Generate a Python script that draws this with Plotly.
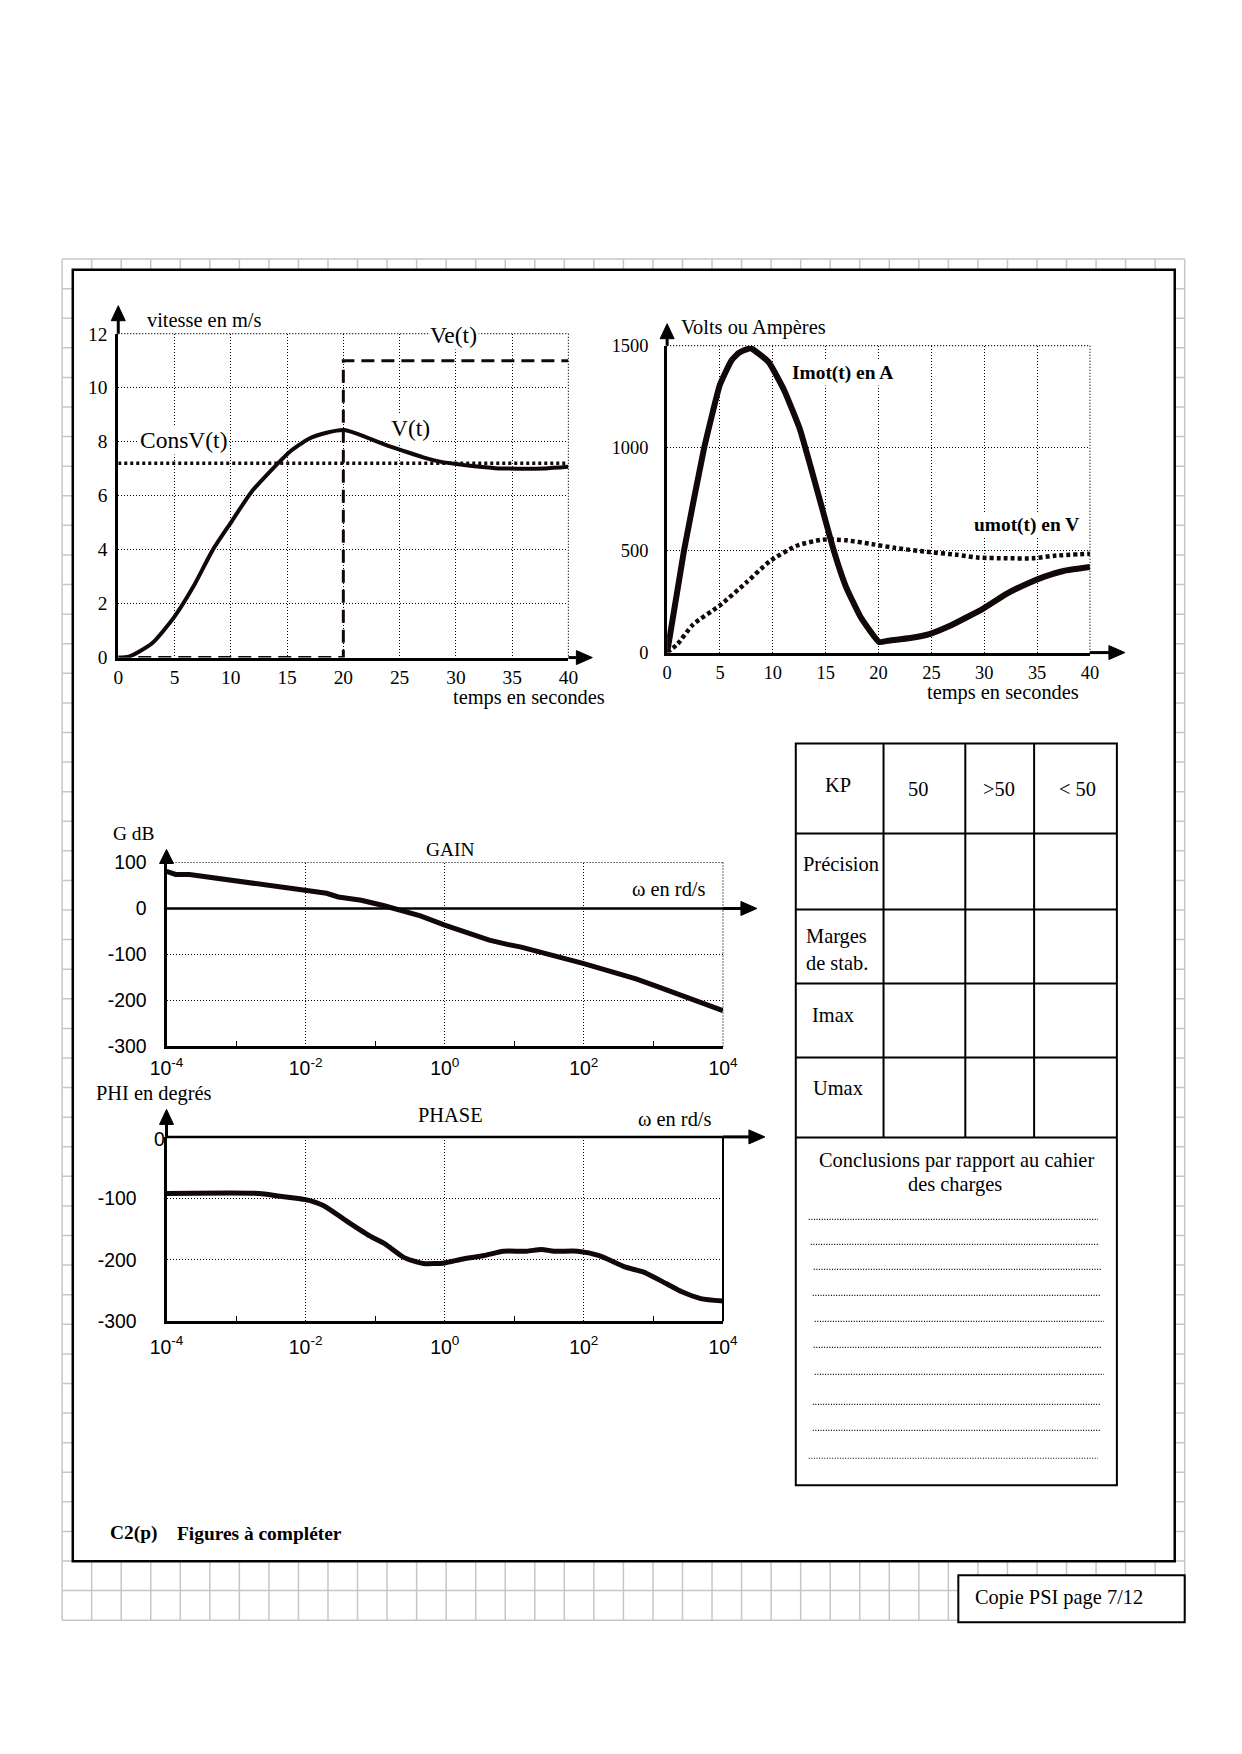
import plotly.graph_objects as go

# ---------------- data ----------------
# Chart 1 : vitesse en m/s vs temps (s)
t_v = [0, 0.95, 2.98, 5.0, 6.7, 8.4, 10.1, 11.8, 13.5, 15.2, 16.9, 18.6, 20.1,
       22.0, 23.7, 25.4, 27.1, 28.7, 30.4, 32.1, 33.8, 35.5, 37.9, 40]
v_vals = [0, 0.03, 0.52, 1.52, 2.65, 3.99, 5.06, 6.12, 6.9, 7.61, 8.1, 8.34, 8.43,
          8.17, 7.89, 7.65, 7.42, 7.25, 7.15, 7.07, 7.01, 7.0, 7.01, 7.07]
t_ve = [0, 20, 20, 40]
ve_vals = [0, 0, 11, 11]
t_cons = [0, 40]
cons_vals = [7.2, 7.2]
v_xticks = [0, 5, 10, 15, 20, 25, 30, 35, 40]
v_yticks = [0, 2, 4, 6, 8, 10, 12]

# Chart 2 : Imot (A) and umot (V) vs temps (s)
t_i = [0, 1.6, 3.5, 5.0, 6.1, 6.8, 7.9, 9.6, 11.1, 12.56, 13.6, 14.7, 15.8, 16.9,
       18.3, 20.05, 20.9, 23.0, 24.8, 26.6, 28.4, 29.9, 32.1, 33.9, 35.7, 37.5, 40]
i_vals = [0, 500, 1000, 1310, 1429, 1466, 1488, 1420, 1279, 1092, 904, 698, 492, 324,
          174, 52, 58, 71, 90, 127, 174, 215, 287, 333, 371, 399, 418]
t_u = [0, 1.0, 2.45, 4.98, 7.5, 9.7, 12.2, 14.7, 16.9, 19.4, 21.6, 24.5, 27.4,
       29.5, 32.1, 34.6, 36.8, 40]
u_vals = [0, 43, 137, 230, 343, 446, 521, 552, 549, 530, 511, 493, 478, 464,
          461, 461, 474, 483]
iu_xticks = [0, 5, 10, 15, 20, 25, 30, 35, 40]
iu_yticks = [0, 500, 1000, 1500]

# Bode : gain (dB) and phase (deg) vs omega (rd/s)
w_gain = [1e-4, 1.35e-4, 2.14e-4, 1.05e-3, 1e-2, 2.0e-2, 2.95e-2, 6.3e-2, 0.135,
          0.209, 0.447, 1.0, 2.04, 4.37, 7.94, 12.6, 100, 562, 1200, 3980, 1e4]
gain_db = [81, 74, 74, 60, 40, 33, 25, 18, 6, -2, -16, -36, -51, -69, -78, -84,
           -120, -153, -171, -200, -222]
w_phase = [1e-4, 2.14e-3, 3.98e-3, 1e-2, 1.82e-2, 3.89e-2, 8.32e-2, 0.138, 0.257,
           0.49, 1.0, 1.74, 3.72, 6.92, 15.1, 24.5, 37.2, 81.3, 166, 398, 724,
           1549, 2570, 4786, 1e4]
phase_deg = [-92, -92, -96, -102, -112, -137, -161, -174, -196, -206, -205, -199,
             -193, -186, -186, -183, -186, -186, -193, -212, -220, -239, -252, -263, -267]
bode_xticks = [1e-4, 1e-2, 1, 1e2, 1e4]
bode_xlabels = ['10<sup>-4</sup>', '10<sup>-2</sup>', '10<sup>0</sup>', '10<sup>2</sup>', '10<sup>4</sup>']
bode_minor = [1e-3, 1e-1, 1e1, 1e3]
gain_yticks = [-300, -200, -100, 0, 100]
gain_ylabels = ['-300', '-200', '-100', '0', '100']
phase_yticks = [-300, -200, -100]
phase_ylabels = ['-300', '-200', '-100']

# Table texts
table_cols = ['KP', '50', '>50', '< 50']
table_rows = ['Précision', 'Marges<br>de stab.', 'Imax', 'Umax']

# ---------------- page geometry (pixels) ----------------
W, H = 1242, 1754
SX, OX = 1.0236, -22.6
SY, OY = 1.0123, -19.4
FS = 1.02

def px(x):
    return (SX * x + OX) / W
def py(y):
    return 1 - (SY * y + OY) / H
def fs(s):
    return round(s * FS, 1)

SERIF = 'Liberation Serif'
SANS = 'Liberation Sans'
INK = '#120808'

# plot boxes (left, right, top, bottom) in pixels
B1 = (115.6, 567, 334, 658)
B2 = (666, 1090, 346, 653)
BG = (164, 722, 863, 1047)
BP = (164, 722, 1137.5, 1322)

def dom_x(b):
    return [px(b[0]), px(b[1])]
def dom_y(b):
    return [py(b[3]), py(b[2])]

fig = go.Figure()

fig.add_trace(go.Scatter(x=t_ve, y=ve_vals, mode='lines', xaxis='x', yaxis='y',
                         line=dict(color=INK, width=3, dash='13px,7px')))
fig.add_trace(go.Scatter(x=t_cons, y=cons_vals, mode='lines', xaxis='x', yaxis='y',
                         line=dict(color=INK, width=3.5, dash='3px,3px')))
fig.add_trace(go.Scatter(x=t_v, y=v_vals, mode='lines', xaxis='x', yaxis='y',
                         line=dict(color=INK, width=4, shape='spline', smoothing=0.6)))

fig.add_trace(go.Scatter(x=t_u, y=u_vals, mode='lines', xaxis='x2', yaxis='y2',
                         line=dict(color=INK, width=4.5, dash='4px,3px', shape='spline', smoothing=0.6)))
fig.add_trace(go.Scatter(x=t_i, y=i_vals, mode='lines', xaxis='x2', yaxis='y2',
                         line=dict(color=INK, width=6, shape='spline', smoothing=0.4)))

fig.add_trace(go.Scatter(x=w_gain, y=gain_db, mode='lines', xaxis='x3', yaxis='y3',
                         line=dict(color=INK, width=5)))
fig.add_trace(go.Scatter(x=w_phase, y=phase_deg, mode='lines', xaxis='x4', yaxis='y4',
                         line=dict(color=INK, width=5, shape='spline', smoothing=0.6)))

def ax(**kw):
    d = dict(showgrid=True, gridcolor='black', gridwidth=1, griddash='1px,2px',
             zeroline=False, showline=True, linecolor='black', linewidth=3,
             ticks='', fixedrange=True,
             tickfont=dict(family=SERIF, size=fs(18), color='black'))
    d.update(kw)
    return d

serif19 = dict(family=SERIF, size=fs(19), color='black')
sans_tick = dict(family=SANS, size=fs(19), color='black')
fig.update_layout(
    width=W, height=H, margin=dict(l=0, r=0, t=0, b=0),
    paper_bgcolor='white', plot_bgcolor='rgba(0,0,0,0)', showlegend=False,
    xaxis=ax(domain=dom_x(B1), range=[0, 40], anchor='y', tickvals=v_xticks,
             ticklabelstandoff=0, tickfont=serif19),
    yaxis=ax(domain=dom_y(B1), range=[0, 12], anchor='x', tickvals=v_yticks,
             ticklabelstandoff=4, tickfont=serif19),
    xaxis2=ax(domain=dom_x(B2), range=[0, 40], anchor='y2', tickvals=iu_xticks, ticklabelstandoff=1),
    yaxis2=ax(domain=dom_y(B2), range=[0, 1500], anchor='x2', tickvals=iu_yticks, ticklabelstandoff=12),
    xaxis3=ax(domain=dom_x(BG), type='log', range=[-4, 4], anchor='y3', tickvals=bode_xticks,
              ticktext=bode_xlabels, ticklabelstandoff=2, tickfont=sans_tick,
              minor=dict(tickvals=bode_minor, ticks='inside', ticklen=5, tickcolor='black', showgrid=False)),
    yaxis3=ax(domain=dom_y(BG), range=[-300, 100], anchor='x3', tickvals=gain_yticks,
              ticktext=gain_ylabels, ticklabelstandoff=13, tickfont=sans_tick),
    xaxis4=ax(domain=dom_x(BP), type='log', range=[-4, 4], anchor='y4', tickvals=bode_xticks,
              ticktext=bode_xlabels, ticklabelstandoff=6, tickfont=sans_tick,
              minor=dict(tickvals=bode_minor, ticks='inside', ticklen=5, tickcolor='black', showgrid=False)),
    yaxis4=ax(domain=dom_y(BP), range=[-300, 0], anchor='x4', tickvals=phase_yticks,
              ticktext=phase_ylabels, ticklabelstandoff=23, tickfont=sans_tick),
)

shapes = []
# ---- page background grid ----
GX0, GX1, GY0, GY1 = 59.3, 1185, 259.3, 1621
nx, ny = 38, 46
for k in range(nx + 1):
    x = GX0 + k * (GX1 - GX0) / nx
    shapes.append(dict(type='line', xref='paper', yref='paper', x0=px(x), x1=px(x),
                       y0=py(GY0), y1=py(GY1), line=dict(color='#c6c6c6', width=1.5), layer='below'))
for k in range(ny + 1):
    y = GY0 + k * (GY1 - GY0) / ny
    shapes.append(dict(type='line', xref='paper', yref='paper', x0=px(GX0), x1=px(GX1),
                       y0=py(y), y1=py(y), line=dict(color='#c6c6c6', width=1.5), layer='below'))
# inner frame
shapes.append(dict(type='rect', xref='paper', yref='paper', x0=px(70), x1=px(1175),
                   y0=py(1562), y1=py(270), fillcolor='white', line=dict(color='black', width=2.5),
                   layer='below'))
# "Copie" box
shapes.append(dict(type='rect', xref='paper', yref='paper', x0=px(958), x1=px(1185),
                   y0=py(1623), y1=py(1576), fillcolor='white', line=dict(color='black', width=2),
                   layer='below'))

def seg(x0, y0, x1, y1, w=3, color='black', dash=None):
    ln = dict(color=color, width=w)
    if dash:
        ln['dash'] = dash
    shapes.append(dict(type='line', xref='paper', yref='paper', x0=px(x0), x1=px(x1),
                       y0=py(y0), y1=py(y1), line=ln))

def arrow_up(x, ytop, ytip, base_h=15, half=7):
    seg(x, ytop, x, ytip + base_h, 3)
    shapes.append(dict(type='path', xref='paper', yref='paper',
                       path=f'M {px(x - half)},{py(ytip + base_h)} L {px(x + half)},{py(ytip + base_h)} L {px(x)},{py(ytip)} Z',
                       fillcolor='black', line=dict(color='black', width=1)))

def arrow_right(y, xend, xtip, base_w=16, half=7):
    seg(xend, y, xtip - base_w, y, 3)
    shapes.append(dict(type='path', xref='paper', yref='paper',
                       path=f'M {px(xtip - base_w)},{py(y - half)} L {px(xtip - base_w)},{py(y + half)} L {px(xtip)},{py(y)} Z',
                       fillcolor='black', line=dict(color='black', width=1)))

DOT = '1px,2px'
# chart 1: dotted top/right border + arrows
seg(B1[0], B1[2], B1[1], B1[2], 1.2, dash=DOT)
seg(B1[1], B1[2], B1[1], B1[3], 1.2, dash=DOT)
arrow_up(B1[0], B1[2], 306)
arrow_right(B1[3], B1[1], 591)
# chart 2
seg(B2[0], B2[2], B2[1], B2[2], 1.2, dash=DOT)
seg(B2[1], B2[2], B2[1], B2[3], 1.2, dash=DOT)
arrow_up(B2[0], B2[2], 324)
arrow_right(B2[3], B2[1], 1125)
# gain: dotted top/right, zero line + arrows
g0 = BG[2] + (BG[3] - BG[2]) * 100 / 400
seg(BG[0], BG[2], BG[1], BG[2], 1.2, dash=DOT)
seg(BG[1], BG[2], BG[1], BG[3], 1.2, dash=DOT)
seg(BG[0], g0, BG[1], g0, 2.5)
arrow_up(BG[0], BG[2], 850, base_h=14)
arrow_right(g0, BG[1], 756)
# phase: solid top line and right border + arrows
seg(BP[0], BP[2], BP[1], BP[2], 2.5)
seg(BP[1], BP[2], BP[1], BP[3], 2)
arrow_up(BP[0], BP[2], 1110)
arrow_right(BP[2], BP[1], 764)

# ---- table ----
TL, TR, TT, TB = 795, 1117, 744, 1486
col_x = [883, 965, 1034]
row_y = [834, 910, 984, 1058, 1138]
shapes.append(dict(type='rect', xref='paper', yref='paper', x0=px(TL), x1=px(TR),
                   y0=py(TB), y1=py(TT), line=dict(color='black', width=2)))
for cx in col_x:
    seg(cx, TT, cx, row_y[-1], 2)
for ry in row_y:
    seg(TL, ry, TR, ry, 2)
dot_lines = [(808, 1098, 1220), (810, 1099, 1245), (813, 1102, 1270), (812, 1101, 1296),
             (814, 1104, 1322), (813, 1102, 1348), (814, 1104, 1375), (812, 1101, 1405),
             (812, 1101, 1431), (808, 1098, 1459)]
for x0, x1, yy in dot_lines:
    seg(x0, yy, x1, yy, 1.2, dash='1px,1.6px')

fig.update_layout(shapes=shapes)

ann = []
def txt(x, y, s, size=19, family=SERIF, xanchor='left', bold=False, bg=None, align='center'):
    t = f'<b>{s}</b>' if bold else s
    d = dict(x=px(x), y=py(y), xref='paper', yref='paper', text=t, showarrow=False,
             xanchor=xanchor, yanchor='middle', align=align,
             font=dict(family=family, size=fs(size), color='black'))
    if bg:
        d['bgcolor'] = bg
    ann.append(d)

# chart 1 labels
txt(142, 320, 'vitesse en m/s', 20)
txt(452, 335, 'Ve(t)', 23, xanchor='center', bg='white')
txt(181, 440, 'ConsV(t)', 23, xanchor='center', bg='white')
txt(409, 428, 'V(t)', 23, xanchor='center', bg='white')
txt(527, 698, 'temps en secondes', 20, xanchor='center')
# chart 2 labels
txt(678, 328, 'Volts ou Ampères', 20)
txt(789, 373, 'Imot(t) en A', 19, bold=True, bg='white')
txt(972, 525, 'umot(t) en V', 19, bold=True, bg='white')
txt(1003, 693, 'temps en secondes', 20, xanchor='center')
# bode labels
txt(108, 834, 'G dB', 19)
txt(448, 850, 'GAIN', 19, xanchor='center')
txt(629, 890, 'ω en rd/s', 20)
txt(91, 1094, 'PHI en degrés', 20)
txt(449, 1116, 'PHASE', 20, xanchor='center')
txt(635, 1120, 'ω en rd/s', 20)
txt(157, 1140, '0', 19, family=SANS, xanchor='center')
# table labels
txt(837, 785, table_cols[0], 20, xanchor='center')
txt(918, 789, table_cols[1], 20, xanchor='center')
txt(999, 789, table_cols[2], 20, xanchor='center')
txt(1078, 789, table_cols[3], 20, xanchor='center')
txt(840, 864, table_rows[0], 20, xanchor='center')
txt(803, 950, table_rows[1], 20, align='left')
txt(809, 1016, table_rows[2], 20)
txt(810, 1089, table_rows[3], 20)
txt(956, 1161, 'Conclusions par rapport au cahier', 20, xanchor='center')
txt(955, 1185, 'des charges', 20, xanchor='center')
# footer
txt(105, 1534, 'C2(p)', 19, bold=True)
txt(172, 1534, 'Figures à compléter', 19, bold=True)
txt(973, 1598, 'Copie PSI page 7/12', 20)

fig.update_layout(annotations=ann)
fig.write_html('out.html')
